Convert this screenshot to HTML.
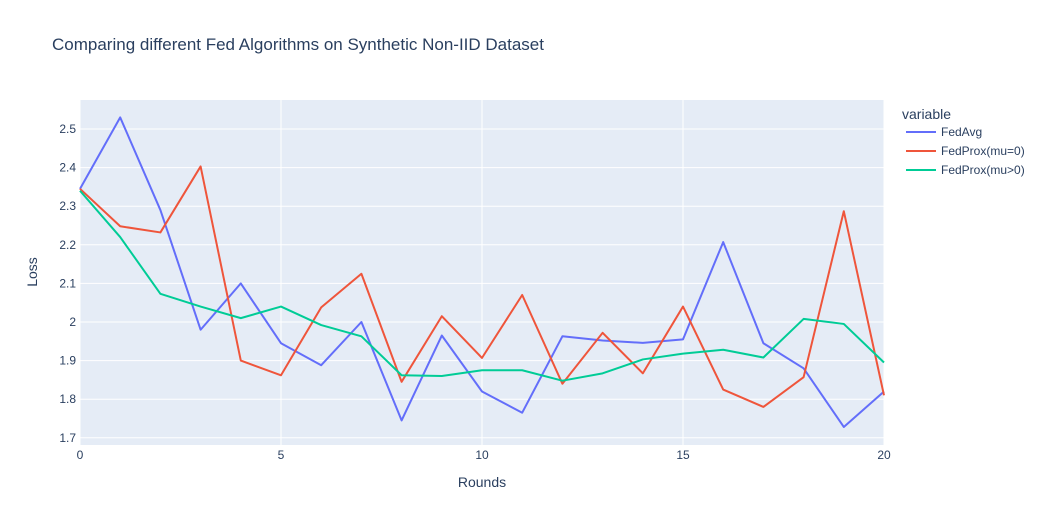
<!DOCTYPE html>
<html><head><meta charset="utf-8"><style>
body{margin:0;background:#fff;font-family:"Liberation Sans","Open Sans",sans-serif}
svg text{font-family:"Liberation Sans",sans-serif;fill:#2a3f5f}
</style></head><body>
<svg id="chart" width="1043" height="525" xmlns="http://www.w3.org/2000/svg">
<text x="52" y="50" font-size="17">Comparing different Fed Algorithms on Synthetic Non-IID Dataset</text>
<rect x="80" y="100" width="804" height="345" fill="#e5ecf6"/>
<g id="grid"></g><g id="series"></g>
<text x="482" y="487" font-size="14" text-anchor="middle">Rounds</text>
<text transform="translate(37,272) rotate(-90)" font-size="14" text-anchor="middle">Loss</text>
<g id="legend">
<text x="902" y="119" font-size="14">variable</text>
</g>
</svg>
<script>
const rounds=[0,1,2,3,4,5,6,7,8,9,10,11,12,13,14,15,16,17,18,19,20];
const fedAvg=[2.345,2.53,2.29,1.98,2.10,1.945,1.888,2.0,1.745,1.965,1.82,1.765,1.963,1.952,1.946,1.955,2.207,1.945,1.88,1.728,1.82];
const fedProx0=[2.345,2.248,2.232,2.403,1.90,1.862,2.038,2.125,1.845,2.015,1.907,2.07,1.84,1.972,1.867,2.04,1.825,1.78,1.857,2.287,1.81];
const fedProxMu=[2.34,2.22,2.073,2.04,2.01,2.04,1.992,1.963,1.862,1.86,1.875,1.875,1.848,1.867,1.903,1.918,1.928,1.908,2.008,1.995,1.895];
const xTicks=[0,5,10,15,20];
const yTicks=[1.7,1.8,1.9,2,2.1,2.2,2.3,2.4,2.5];
const seriesNames=["FedAvg","FedProx(mu=0)","FedProx(mu>0)"];
const colors=["#636efa","#ef553b","#00cc96"];
const X=v=>80+v*(804/20);
const Y=v=>322-(v-2)*386;
const NS="http://www.w3.org/2000/svg";
const g=document.getElementById('grid'),s=document.getElementById('series'),lg=document.getElementById('legend');
function mk(tag,attrs,parent,txt){const e=document.createElementNS(NS,tag);for(const k in attrs)e.setAttribute(k,attrs[k]);if(txt!==undefined)e.textContent=txt;parent.appendChild(e);return e;}
xTicks.forEach(t=>{
 const l=mk('line',{x1:X(t),x2:X(t),y1:100,y2:445,stroke:'#fff','stroke-width':1},g);
 
 
 const tx=mk('text',{x:X(t),y:459,'font-size':12,'text-anchor':'middle'},g,String(t));
 
 
});
yTicks.forEach(t=>{
 const l=mk('line',{x1:80,x2:884,y1:Y(t),y2:Y(t),stroke:'#fff','stroke-width':1},g);
 
 
 const tx=mk('text',{x:76,y:Y(t)+4,'font-size':12,'text-anchor':'end'},g,String(t));
 
 
});
[fedAvg,fedProx0,fedProxMu].forEach((d,i)=>{
 const p=mk('polyline',{points:d.map((v,j)=>X(rounds[j])+','+Y(v)).join(' '),fill:'none',stroke:colors[i],'stroke-width':2,'stroke-linejoin':'round'},s);
 
 
 const y=132+i*19;
 const ll=mk('line',{x1:906,x2:936,y1:y,y2:y,stroke:colors[i],'stroke-width':2},lg);
 
 
 const lt=mk('text',{x:941,y:y+4,'font-size':12},lg,seriesNames[i]);
 
 
});
</script>
</body></html>
